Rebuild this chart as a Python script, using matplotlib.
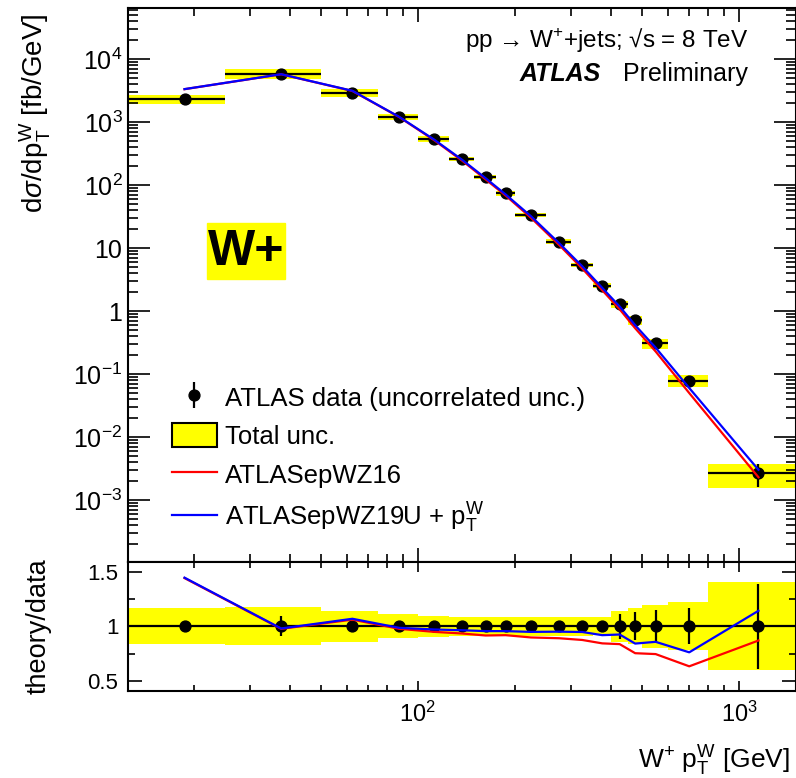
import numpy as np
import matplotlib
matplotlib.use('Agg')
import matplotlib.pyplot as plt
from matplotlib.patches import Patch, Rectangle
from matplotlib.lines import Line2D
from matplotlib.collections import LineCollection
from matplotlib.container import ErrorbarContainer
from matplotlib.ticker import LogLocator, FuncFormatter, FixedLocator, NullFormatter

plt.rcParams['font.family'] = ['Liberation Sans', 'DejaVu Sans']
plt.rcParams['mathtext.fontset'] = 'custom'
plt.rcParams['mathtext.rm'] = 'Liberation Sans'
plt.rcParams['mathtext.it'] = 'Liberation Sans:italic'
plt.rcParams['mathtext.bf'] = 'Liberation Sans:bold'
plt.rcParams['mathtext.sf'] = 'Liberation Sans'

# ---------------- data ----------------
bin_low = [12.5, 25, 50, 75, 100, 125, 150, 175, 200, 250, 300, 350, 400, 450, 500, 600, 800]
bin_high = [25, 50, 75, 100, 125, 150, 175, 200, 250, 300, 350, 400, 450, 500, 600, 800, 1500]
bin_centers = [18.75, 37.5, 62.5, 87.5, 112.5, 137.5, 162.5, 187.5, 225, 275, 325, 375,
               425, 475, 550, 700, 1150]
xsec = [2320, 5900, 2950, 1230, 543, 261, 135, 74.7, 33.8, 12.7, 5.43, 2.55,
        1.28, 0.71, 0.307, 0.079, 0.00265]
total_unc = [0.166, 0.176, 0.140, 0.111, 0.095, 0.086, 0.086, 0.086, 0.086, 0.086, 0.086,
             0.084, 0.140, 0.163, 0.195, 0.217, 0.405]
uncorr_unc = [0.01, 0.092, 0.02, 0.01, 0.01, 0.01, 0.01, 0.01, 0.01, 0.012, 0.015, 0.03,
              0.115, 0.13, 0.15, 0.165, 0.39]
ratio_epWZ16 = [1.44, 0.976, 1.06, 0.976, 0.948, 0.933, 0.915, 0.918, 0.897, 0.890, 0.874,
                0.843, 0.836, 0.753, 0.745, 0.633, 0.869]
ratio_epWZ19U = [1.444, 0.979, 1.068, 0.985, 0.970, 0.963, 0.955, 0.955, 0.948, 0.950, 0.947,
                 0.918, 0.924, 0.841, 0.857, 0.761, 1.141]

lo = np.array(bin_low)
hi = np.array(bin_high)
xc = np.array(bin_centers)
y = np.array(xsec)
tu = np.array(total_unc)
uu = np.array(uncorr_unc)
r16 = np.array(ratio_epWZ16)
r19 = np.array(ratio_epWZ19U)

YELLOW = '#ffff00'
RED = '#ff0000'
BLUE = '#0000ff'
W, H = 796, 778
fig = plt.figure(figsize=(W / 100, H / 100), dpi=100)


def px_axes(l, t, r, b):
    return fig.add_axes([l / W, 1 - b / H, (r - l) / W, (b - t) / H])


ax = px_axes(128, 8, 795.5, 561.7)
rax = px_axes(128, 561.7, 795.5, 690.7)

# ---------------- main panel ----------------
ax.bar(lo, 2 * tu * y, width=hi - lo, bottom=y * (1 - tu), align='edge',
       color=YELLOW, linewidth=0, zorder=1)
ax.errorbar(xc, y, xerr=[xc - lo, hi - xc], yerr=uu * y, fmt='o', color='k',
            ms=7.8, elinewidth=1.6, capsize=0, zorder=3)
ax.plot(xc, r16 * y, color=RED, lw=1.6, zorder=4)
ax.plot(xc, r19 * y, color=BLUE, lw=1.6, zorder=5)

ax.set_xscale('log')
ax.set_yscale('log')
ax.set_xlim(12.5, 1500)
ax.set_ylim(1.05e-4, 6.5e4)


def yfmt(v, pos):
    e = int(round(np.log10(v)))
    if e == 0:
        return '1'
    if e == 1:
        return '10'
    return r'$10^{%d}$' % e


ax.yaxis.set_major_locator(LogLocator(base=10, numticks=30))
ax.yaxis.set_minor_locator(LogLocator(base=10, subs=np.arange(2, 10), numticks=300))
ax.yaxis.set_major_formatter(FuncFormatter(yfmt))
ax.yaxis.set_minor_formatter(NullFormatter())
ax.xaxis.set_major_locator(LogLocator(base=10, numticks=30))
ax.xaxis.set_minor_locator(LogLocator(base=10, subs=np.arange(2, 10), numticks=300))
ax.xaxis.set_major_formatter(NullFormatter())
ax.xaxis.set_minor_formatter(NullFormatter())
ax.tick_params(which='both', direction='in', top=True, right=True, width=1.2)
ax.tick_params(axis='y', which='major', length=16, labelsize=18, pad=4)
ax.tick_params(axis='y', which='minor', length=7)
ax.tick_params(axis='x', which='major', length=10)
ax.tick_params(axis='x', which='minor', length=5.5)
for s in ax.spines.values():
    s.set_linewidth(1.5)

ax.set_ylabel(r'd$\sigma$/dp$_{\rm T}^{\rm W}$ [fb/GeV]', fontsize=20, loc='top')
ax.yaxis.set_label_coords(-0.112, 0.991)

ax.text(0.93, 0.930, 'pp → W$^{+}$+jets; √s = 8 TeV',
        transform=ax.transAxes, ha='right', va='baseline', fontsize=17.5)
ax.text(0.586, 0.868, 'ATLAS', transform=ax.transAxes, ha='left', va='baseline',
        fontsize=18, fontweight='bold', fontstyle='italic')
ax.text(0.928, 0.868, 'Preliminary', transform=ax.transAxes, ha='right', va='baseline',
        fontsize=18)

# W+ label
fig.patches.append(Rectangle((207 / W, 1 - 279 / H), 78 / W, 56 / H,
                             transform=fig.transFigure, color=YELLOW, zorder=0))
fig.text(246 / W, 1 - 252 / H, 'W+', ha='center', va='center', fontsize=36,
         fontweight='bold')

# legend
mk = Line2D([], [], marker='o', color='k', ms=7.8, ls='none')
vb = LineCollection([], colors='k', linewidths=1.6)
h_data = ErrorbarContainer((mk, (), (vb,)), has_xerr=False, has_yerr=True)
h_tot = Patch(facecolor=YELLOW, edgecolor='k', linewidth=1.5)
h16 = Line2D([], [], color=RED, lw=1.6)
h19 = Line2D([], [], color=BLUE, lw=1.6)
leg = ax.legend([h_data, h_tot, h16, h19],
                ['ATLAS data (uncorrelated unc.)', 'Total unc.', 'ATLASepWZ16',
                 r'ATLASepWZ19U + p$_{\rm T}^{\rm W}$'],
                loc='upper left', bbox_to_anchor=(172 / W, 1 - 385 / H),
                bbox_transform=fig.transFigure, frameon=False, fontsize=18.5,
                handlelength=1.75, handleheight=1.04, handletextpad=0.3,
                labelspacing=0.5, borderpad=0, borderaxespad=0)

# ---------------- ratio panel ----------------
rax.bar(lo, 2 * tu, width=hi - lo, bottom=1 - tu, align='edge', color=YELLOW,
        linewidth=0, zorder=1)
rax.axhline(1.0, color='k', lw=1.6, zorder=2)
rax.errorbar(xc, np.ones_like(xc), yerr=uu, fmt='o', color='k', ms=7.8,
             elinewidth=1.6, capsize=0, zorder=3)
rax.plot(xc, r16, color=RED, lw=1.6, zorder=4)
rax.plot(xc, r19, color=BLUE, lw=1.6, zorder=5)
rax.set_xscale('log')
rax.set_xlim(12.5, 1500)
rax.set_ylim(0.41, 1.59)
rax.yaxis.set_major_locator(FixedLocator([0.5, 1.0, 1.5]))
rax.yaxis.set_minor_locator(FixedLocator([0.75, 1.25]))
rax.yaxis.set_major_formatter(FuncFormatter(lambda v, p: '%g' % v))
rax.xaxis.set_major_locator(LogLocator(base=10, numticks=30))
rax.xaxis.set_minor_locator(LogLocator(base=10, subs=np.arange(2, 10), numticks=300))
rax.xaxis.set_minor_formatter(NullFormatter())
rax.xaxis.set_major_formatter(FuncFormatter(lambda v, p: r'$10^{%d}$' % int(round(np.log10(v)))))
rax.tick_params(which='both', direction='in', top=True, right=True, width=1.2)
rax.tick_params(axis='y', which='major', length=10, labelsize=16, pad=7)
rax.tick_params(axis='y', which='minor', length=5)
rax.tick_params(axis='x', which='major', length=7, labelsize=17, pad=8)
rax.tick_params(axis='x', which='minor', length=4.5)
for s in rax.spines.values():
    s.set_linewidth(1.5)
rax.set_ylabel('theory/data', fontsize=19.5)
rax.yaxis.set_label_coords(-0.114, 0.5)
rax.set_xlabel(r'W$^{+}$ p$_{\rm T}^{\rm W}$ [GeV]', fontsize=19, loc='right')
rax.xaxis.set_label_coords(0.992, -0.41)

fig.savefig('out.png', dpi=100)
